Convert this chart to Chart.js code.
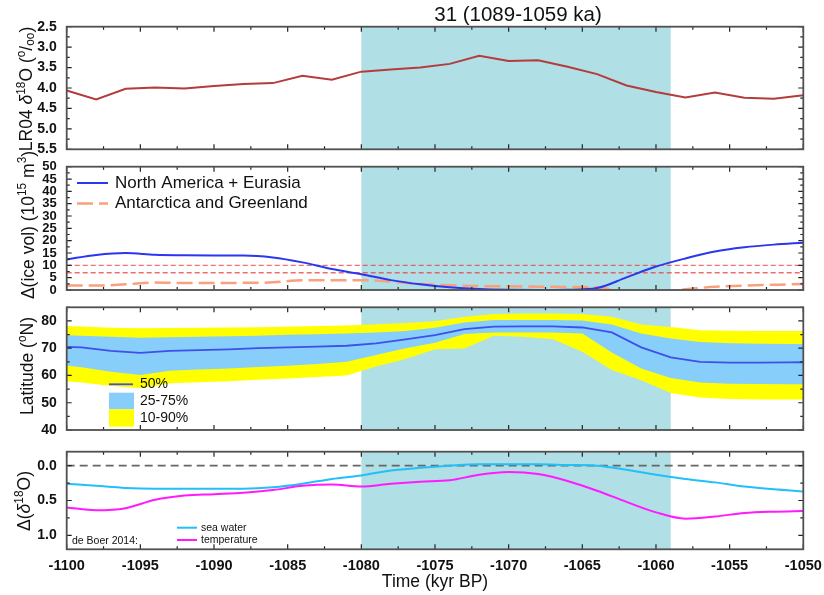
<!DOCTYPE html>
<html>
<head>
<meta charset="utf-8">
<title>MIS 31 ice sheets</title>
<script src="https://cdn.jsdelivr.net/npm/chart.js@4.4.0/dist/chart.umd.min.js"></script>
<style>
  html, body { margin: 0; padding: 0; background: #fff; }
  #wrap { position: relative; width: 824px; height: 595px; }
  #wrap canvas { position: absolute; left: 0; top: 0; }
</style>
</head>
<body>
<div id="wrap">
  <canvas id="lr04Chart" width="824" height="595"></canvas>
  <canvas id="iceChart" width="824" height="595"></canvas>
  <canvas id="latChart" width="824" height="595"></canvas>
  <canvas id="d18oChart" width="824" height="595"></canvas>
</div>
<script>
// time axis (kyr BP, negative = past)
const timeRange = [-1100, -1050];
const stageBand = [-1080, -1059];
const stageLabel = '31 (1089-1059 ka)';

const timeKyr = [-1100, -1098, -1096, -1094, -1092, -1090, -1088, -1086, -1084, -1082, -1080, -1078, -1076,
  -1074, -1072, -1070, -1068, -1066, -1064, -1062, -1060, -1058, -1056, -1054, -1052, -1050];

// LR04 benthic stack
const lr04D18O = [4.06, 4.28, 4.02, 3.99, 4.01, 3.95, 3.90, 3.88, 3.70, 3.80, 3.60, 3.55, 3.50,
  3.41, 3.21, 3.34, 3.32, 3.48, 3.66, 3.94, 4.10, 4.23, 4.11, 4.24, 4.26, 4.18];

// ice volume anomalies (10^15 m^3)
const iceSeriesNames = ['North America + Eurasia', 'Antarctica and Greenland'];
const iceNaEu = [12.4, 14.2, 15.0, 14.3, 14.1, 14.0, 14.0, 13.2, 11.2, 8.5, 6.4, 4.0, 2.3,
  1.1, 0.4, 0.1, 0.0, 0.1, 0.8, 5.1, 9.5, 12.8, 15.6, 17.3, 18.4, 19.2];
const iceAntGrl = [1.8, 1.8, 2.3, 3.0, 2.8, 2.8, 2.9, 3.1, 4.0, 4.0, 4.0, 3.4, 2.4,
  1.9, 1.6, 1.5, 1.35, 1.2, 1.1, -0.8, -0.8, 0.3, 1.3, 1.8, 2.1, 2.4];
const iceRefLevels = [10, 7];

// ice margin latitude percentiles
const latNames = ['50%', '25-75%', '10-90%'];
const latTimeKyr = [-1101, -1099, -1097, -1095, -1093, -1091, -1089, -1087, -1085, -1083, -1081, -1079, -1077, -1075,
  -1073, -1071, -1069, -1067, -1065, -1063, -1061, -1059, -1057, -1055, -1053, -1051, -1049];
const latP90 = [78.2, 78.0, 77.5, 77.3, 77.4, 77.5, 77.6, 77.7, 77.9, 78.1, 78.3, 78.8, 79.2, 79.9,
  81.5, 82.5, 82.7, 82.7, 82.5, 81.5, 78.7, 77.8, 76.6, 76.4, 76.3, 76.3, 76.3];
const latP75 = [74.9, 74.6, 74.2, 73.8, 74.0, 74.2, 74.4, 74.6, 74.9, 75.1, 75.4, 75.8, 76.3, 77.5,
  79.4, 80.3, 80.3, 80.3, 80.2, 78.7, 75.4, 73.6, 72.3, 71.8, 71.6, 71.5, 71.5];
const latP50 = [70.7, 70.3, 69.0, 68.3, 69.0, 69.3, 69.6, 70.0, 70.3, 70.6, 70.9, 71.8, 73.2, 74.8,
  77.0, 77.9, 78.0, 78.0, 77.6, 75.8, 70.3, 66.6, 65.0, 64.7, 64.7, 64.8, 64.9];
const latP25 = [64.2, 63.0, 61.4, 60.2, 61.7, 62.2, 62.6, 63.1, 63.6, 64.2, 65.0, 67.5, 70.0, 72.0,
  75.2, 75.8, 75.8, 75.8, 75.4, 68.4, 62.6, 59.1, 57.4, 57.0, 56.9, 56.8, 56.8];
const latP10 = [58.3, 57.4, 56.1, 55.3, 57.1, 57.5, 57.9, 58.4, 58.9, 59.4, 60.0, 63.3, 66.0, 69.6,
  69.9, 74.6, 74.2, 73.3, 68.7, 62.0, 58.2, 53.6, 51.9, 51.4, 51.2, 51.2, 51.2];

// d18O contributions (de Boer 2014)
const d18oNames = ['sea water', 'temperature'];
const d18oSource = 'de Boer 2014:';
const d18oSeaWater = [0.26, 0.29, 0.32, 0.33, 0.33, 0.33, 0.33, 0.31, 0.26, 0.19, 0.14, 0.07, 0.03,
  0.00, -0.02, -0.02, -0.02, -0.01, 0.00, 0.06, 0.13, 0.19, 0.24, 0.30, 0.34, 0.37];
const d18oTemperature = [0.60, 0.64, 0.61, 0.49, 0.43, 0.41, 0.39, 0.35, 0.29, 0.27, 0.30, 0.26, 0.23,
  0.21, 0.13, 0.09, 0.12, 0.22, 0.36, 0.52, 0.67, 0.76, 0.73, 0.68, 0.66, 0.65];

const FONT = '"Liberation Sans", Arial, Helvetica, sans-serif';
Chart.defaults.font.family = FONT;
Chart.defaults.color = '#111';

function font(size, style) { return (style ? style + ' ' : '') + size + 'px ' + FONT; }
function pts(xs, ys) { return xs.map((x, i) => ({ x: x, y: ys[i] })); }
function flat(level) { return timeRange.map(x => ({ x: x, y: level })); }

// rotated axis title with super/subscripts
function richText(ctx, parts, cx, cy, size) {
  const small = size * 0.68;
  const fontOf = k => (k === 'sup' || k === 'sub') ? font(small) : k === 'it' ? font(size, 'italic') : font(size);
  ctx.save();
  ctx.translate(cx, cy);
  ctx.rotate(-Math.PI / 2);
  ctx.fillStyle = '#111';
  ctx.textBaseline = 'alphabetic';
  let w = 0;
  parts.forEach(([t, k]) => { ctx.font = fontOf(k); w += ctx.measureText(t).width; });
  let x = -w / 2;
  parts.forEach(([t, k]) => {
    ctx.font = fontOf(k);
    const dy = k === 'sup' ? -size * 0.42 : k === 'sub' ? size * 0.1 : 0;
    ctx.fillText(t, x, dy);
    x += ctx.measureText(t).width;
  });
  ctx.restore();
}

function legendLine(ctx, ds, x0, x1, y) {
  ctx.strokeStyle = ds.borderColor;
  ctx.lineWidth = ds.borderWidth;
  ctx.setLineDash(ds.borderDash || []);
  ctx.beginPath();
  ctx.moveTo(x0, y);
  ctx.lineTo(x1, y);
  ctx.stroke();
  ctx.setLineDash([]);
}

// shading for the interglacial, inward ticks, frame, titles, legends
function decor(cfg) {
  return {
    id: 'decor',
    beforeDatasetsDraw(chart) {
      const { ctx, chartArea: a, scales: { x } } = chart;
      const x0 = x.getPixelForValue(stageBand[0]);
      const x1 = x.getPixelForValue(stageBand[1]);
      ctx.save();
      ctx.fillStyle = '#b0dfe5';
      ctx.fillRect(x0, a.top, x1 - x0, a.bottom - a.top);
      ctx.restore();
    },
    afterDatasetsDraw(chart) {
      const { ctx, chartArea: a, scales: { x, y } } = chart;
      ctx.save();
      ctx.strokeStyle = '#222';
      ctx.lineWidth = 1.2;
      ctx.beginPath();
      for (let i = 0; i <= 20; i++) {
        const px = x.getPixelForValue(x.min + i * 2.5);
        const len = i % 2 === 0 ? 5 : 3;
        ctx.moveTo(px, a.top); ctx.lineTo(px, a.top + len);
        ctx.moveTo(px, a.bottom); ctx.lineTo(px, a.bottom - len);
      }
      const first = Math.ceil(y.min / cfg.yMinor - 1e-9);
      const last = Math.floor(y.max / cfg.yMinor + 1e-9);
      for (let k = first; k <= last; k++) {
        const v = k * cfg.yMinor;
        const py = y.getPixelForValue(v);
        const r = v / cfg.yMajor;
        const len = Math.abs(r - Math.round(r)) < 1e-6 ? 5 : 3;
        ctx.moveTo(a.left, py); ctx.lineTo(a.left + len, py);
        ctx.moveTo(a.right, py); ctx.lineTo(a.right - len, py);
      }
      ctx.stroke();
      ctx.strokeStyle = '#505050';
      ctx.lineWidth = 1.8;
      ctx.strokeRect(a.left, a.top, a.right - a.left, a.bottom - a.top);
      ctx.restore();
    },
    afterDraw(chart) {
      const ctx = chart.ctx;
      richText(ctx, cfg.title, cfg.titleX, cfg.titleY, 17.5);
      if (cfg.legend) {
        ctx.save();
        cfg.legend(chart, ctx);
        ctx.restore();
      }
    }
  };
}

function yAxis(o) {
  return Object.assign({
    type: 'linear',
    position: 'left',
    grid: { display: false, drawTicks: false },
    border: { display: false },
    afterFit(s) { s.width = 66.7; }
  }, o);
}

function xAxis(show) {
  const ax = {
    type: 'linear',
    min: timeRange[0],
    max: timeRange[1],
    display: show,
    grid: { display: false, drawTicks: false },
    border: { display: false }
  };
  if (show) {
    ax.ticks = { stepSize: 5, autoSkip: false, maxRotation: 0, padding: 8,
      font: { size: 14.5, weight: 'bold' }, callback: v => String(v) };
    ax.title = { display: true, text: 'Time (kyr BP)', font: { size: 17.5 }, color: '#111',
      padding: { top: 0, bottom: 2 } };
    ax.afterFit = s => {
      s.height = 45.7;
      // end labels may hang past the plot edge; keep the plot width fixed
      s.paddingLeft = 0;
      s.paddingRight = 0;
    };
  }
  return ax;
}

function baseOptions(top, bottom, showX, y) {
  return {
    responsive: false,
    animation: false,
    devicePixelRatio: 1,
    layout: { padding: { top: top, bottom: bottom, left: 0, right: 20.7 } },
    plugins: { legend: { display: false }, tooltip: { enabled: false } },
    elements: { point: { radius: 0 } },
    scales: { x: xAxis(showX), y: y }
  };
}

const tickFont = { size: 14, weight: 'bold' };

// LR04 d18O
new Chart(document.getElementById('lr04Chart'), {
  type: 'line',
  data: {
    datasets: [{
      label: 'LR04',
      data: pts(timeKyr, lr04D18O),
      borderColor: '#b43c3c',
      borderWidth: 2,
      tension: 0
    }]
  },
  options: baseOptions(26.7, 445.7, false, yAxis({
    min: 2.5, max: 5.5, reverse: true,
    ticks: { stepSize: 0.5, autoSkip: false, padding: 10, font: tickFont, callback: v => v.toFixed(1) }
  })),
  plugins: [decor({
    yMajor: 0.5, yMinor: 0.25,
    title: [['LR04 ', ''], ['\u03b4', 'it'], ['18', 'sup'], ['O (', ''], ['o', 'sup'], ['/', ''], ['oo', 'sub'], [')', '']],
    titleX: 32, titleY: 89,
    legend(chart, ctx) {
      ctx.font = font(20.5);
      ctx.fillStyle = '#111';
      ctx.textAlign = 'center';
      ctx.textBaseline = 'middle';
      ctx.fillText(stageLabel, 518, 15);
    }
  })]
});

// ice volume
new Chart(document.getElementById('iceChart'), {
  type: 'line',
  data: {
    datasets: [
      { label: iceSeriesNames[0], data: pts(timeKyr, iceNaEu), borderColor: '#2b36f0', borderWidth: 2,
        cubicInterpolationMode: 'monotone', clip: 0, order: 0 },
      { label: iceSeriesNames[1], data: pts(timeKyr, iceAntGrl), borderColor: '#f9a07c', borderWidth: 2.5,
        borderDash: [16, 6], cubicInterpolationMode: 'monotone', clip: 0, order: 1 },
      { label: 'ref1', data: flat(iceRefLevels[0]), borderColor: 'rgba(238,70,70,0.8)', borderWidth: 1.3,
        borderDash: [5, 3], order: 2 },
      { label: 'ref2', data: flat(iceRefLevels[1]), borderColor: 'rgba(238,70,70,0.8)', borderWidth: 1.3,
        borderDash: [5, 3], order: 2 }
    ]
  },
  options: baseOptions(166.7, 305, false, yAxis({
    min: 0, max: 50,
    ticks: { stepSize: 5, autoSkip: false, padding: 10, font: { size: 13, weight: 'bold' } }
  })),
  plugins: [decor({
    yMajor: 5, yMinor: 2.5,
    title: [['\u0394(ice vol) (10', ''], ['15', 'sup'], [' m', ''], ['3', 'sup'], [')', '']],
    titleX: 33.5, titleY: 225,
    legend(chart, ctx) {
      const ds = chart.data.datasets;
      ctx.font = font(17);
      ctx.fillStyle = '#111';
      ctx.textBaseline = 'middle';
      [[ds[0], 183], [ds[1], 203.5]].forEach(([d, yy]) => {
        legendLine(ctx, d, 77, 108, yy);
        ctx.fillText(d.label, 115, yy);
      });
    }
  })]
});

// latitude of ice margin
new Chart(document.getElementById('latChart'), {
  type: 'line',
  data: {
    datasets: [
      { label: latNames[0], data: pts(latTimeKyr, latP50), borderColor: '#3f4fe8', borderWidth: 1.8, order: 0 },
      { label: 'p25', data: pts(latTimeKyr, latP25), borderWidth: 0, borderColor: 'transparent', order: 1 },
      { label: latNames[1], data: pts(latTimeKyr, latP75), borderWidth: 0, borderColor: 'transparent',
        backgroundColor: '#87cefa', fill: 1, order: 1 },
      { label: 'p10', data: pts(latTimeKyr, latP10), borderWidth: 0, borderColor: 'transparent', order: 2 },
      { label: latNames[2], data: pts(latTimeKyr, latP90), borderWidth: 0, borderColor: 'transparent',
        backgroundColor: '#ffff00', fill: 3, order: 2 }
    ]
  },
  options: baseOptions(307.3, 165, false, yAxis({
    min: 40, max: 85,
    ticks: { stepSize: 10, includeBounds: false, autoSkip: false, padding: 10, font: tickFont }
  })),
  plugins: [decor({
    yMajor: 10, yMinor: 5,
    title: [['Latitude (', ''], ['o', 'sup'], ['N)', '']],
    titleX: 33, titleY: 366,
    legend(chart, ctx) {
      const ds = chart.data.datasets;
      ctx.font = font(14);
      ctx.fillStyle = '#111';
      ctx.textBaseline = 'middle';
      legendLine(ctx, ds[0], 109, 133, 384.3);
      ctx.fillStyle = ds[2].backgroundColor;
      ctx.fillRect(109, 392.7, 25, 16.6);
      ctx.fillStyle = ds[4].backgroundColor;
      ctx.fillRect(109, 409.3, 25, 17.4);
      ctx.fillStyle = '#111';
      ctx.fillText(ds[0].label, 140, 384.5);
      ctx.fillText(ds[2].label, 140, 401);
      ctx.fillText(ds[4].label, 140, 418);
    }
  })]
});

// d18O decomposition
new Chart(document.getElementById('d18oChart'), {
  type: 'line',
  data: {
    datasets: [
      { label: d18oNames[0], data: pts(timeKyr, d18oSeaWater), borderColor: '#22bff8', borderWidth: 2,
        cubicInterpolationMode: 'monotone', order: 1 },
      { label: d18oNames[1], data: pts(timeKyr, d18oTemperature), borderColor: '#ff1aff', borderWidth: 2,
        cubicInterpolationMode: 'monotone', order: 0 },
      { label: 'zero', data: flat(0), borderColor: '#666', borderWidth: 1.8, borderDash: [8, 5], order: 2 }
    ]
  },
  options: baseOptions(451.7, 0, true, yAxis({
    min: -0.2, max: 1.2, reverse: true,
    ticks: { stepSize: 0.5, includeBounds: false, autoSkip: false, padding: 10, font: tickFont,
      callback: v => v.toFixed(1) }
  })),
  plugins: [decor({
    yMajor: 0.5, yMinor: 0.25,
    title: [['\u0394(', ''], ['\u03b4', 'it'], ['18', 'sup'], ['O)', '']],
    titleX: 30, titleY: 501,
    legend(chart, ctx) {
      const ds = chart.data.datasets;
      ctx.font = font(10.5);
      ctx.fillStyle = '#111';
      ctx.textBaseline = 'middle';
      ctx.fillText(d18oSource, 72, 541);
      legendLine(ctx, ds[0], 177, 197, 527.7);
      legendLine(ctx, ds[1], 177, 197, 540);
      ctx.fillStyle = '#111';
      ctx.fillText(ds[0].label, 201, 528);
      ctx.fillText(ds[1].label, 201, 540.5);
    }
  })]
});
</script>
</body>
</html>
